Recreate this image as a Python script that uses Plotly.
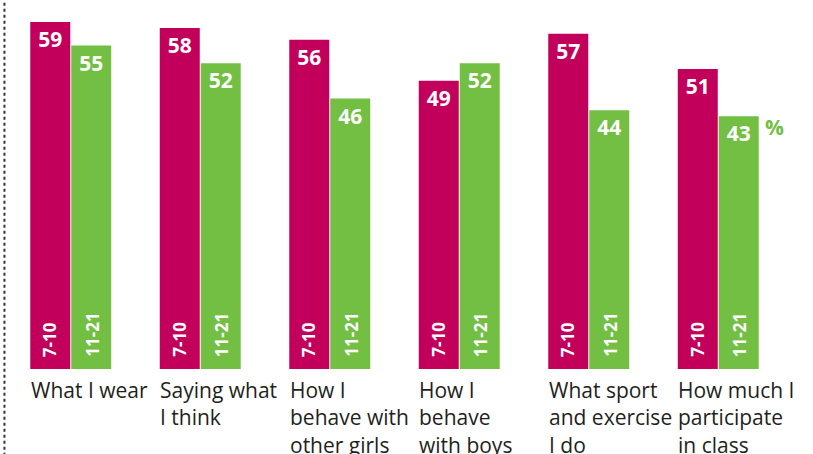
import plotly.graph_objects as go

categories = ["What I wear", "Saying what I think", "How I behave with other girls",
              "How I behave with boys", "What sport and exercise I do",
              "How much I participate in class"]
cat_labels = ["What I wear", "Saying what<br>I think", "How I<br>behave with<br>other girls",
              "How I<br>behave<br>with boys", "What sport<br>and exercise<br>I do",
              "How much I<br>participate<br>in class"]
age_groups = ["7-10", "11-21"]
vals_7_10 = [59, 58, 56, 49, 57, 51]
vals_11_21 = [55, 52, 46, 52, 44, 43]

magenta = "#c2005b"
green = "#72bf44"
font = "Open Sans"

fig = go.Figure()
for name, vals, col in [(age_groups[0], vals_7_10, magenta), (age_groups[1], vals_11_21, green)]:
    fig.add_trace(go.Bar(x=categories, y=vals, name=name, marker_color=col,
                         marker_line_width=0,
                         texttemplate="%{y}", textposition="inside",
                         insidetextanchor="end", textangle=0,
                         textfont=dict(family=font, size=21, color="white", weight="bold")))

annots = []
for i, c in enumerate(categories):
    # rotated age labels at the bottom of each bar
    for shift, lab in [(-21, age_groups[0]), (21, age_groups[1])]:
        annots.append(dict(x=c, y=0, xref="x", yref="y", text="<b>" + lab + "</b>",
                           textangle=-90, showarrow=False, xshift=shift, yshift=10,
                           yanchor="bottom", xanchor="center",
                           font=dict(family=font, size=17, color="white")))
    # category label under the group
    annots.append(dict(x=c, y=0, xref="x", yref="y", text=cat_labels[i],
                       showarrow=False, xshift=-42, yshift=-5, xanchor="left",
                       yanchor="top", align="left",
                       font=dict(family=font, size=21, color="#231f20")))

annots.append(dict(x=categories[-1], y=vals_11_21[-1], xref="x", yref="y",
                   text="<b>%</b>", showarrow=False, xshift=56, yshift=-11,
                   xanchor="center", yanchor="middle",
                   font=dict(family=font, size=21, color=green)))

fig.update_layout(
    width=813, height=454,
    margin=dict(l=6, r=30, t=0, b=85),
    plot_bgcolor="white", paper_bgcolor="white",
    barmode="group", bargap=0.367, bargroupgap=0.024,
    showlegend=False,
    annotations=annots,
    shapes=[dict(type="line", xref="paper", yref="paper", x0=-0.002, x1=-0.002,
                 y0=-0.235, y1=1, line=dict(color="#333333", width=2, dash="dot"))],
)
# fixed range, otherwise the annotations widen the autorange
fig.update_xaxes(visible=False, range=[-0.5, len(categories) - 0.5])
fig.update_yaxes(visible=False, range=[0, 62.75])

# page has a default 8px body margin, drop it so the figure sits at 0,0
fig.write_html("out.html", config=dict(displayModeBar=False, responsive=False),
               post_script="document.body.style.margin='0';document.body.style.overflow='hidden';")
